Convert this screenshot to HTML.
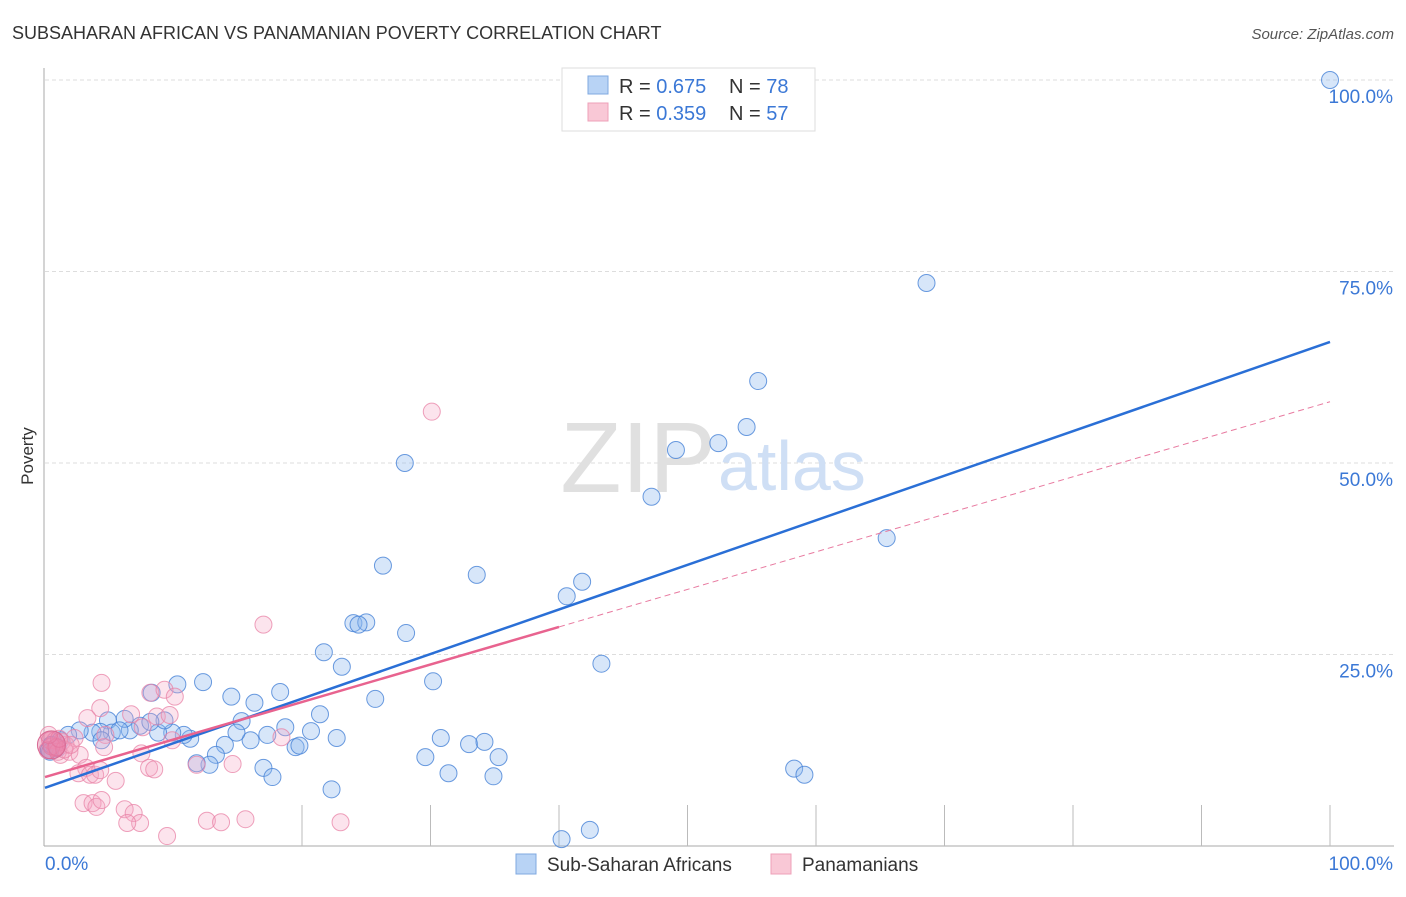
<!DOCTYPE html>
<html><head><meta charset="utf-8"><style>
body{margin:0;background:#fff;font-family:"Liberation Sans",sans-serif}
svg text{font-family:"Liberation Sans",sans-serif}
</style></head><body>
<svg id="c" width="1406" height="892">
<text x="12" y="39" font-size="18" fill="#333">SUBSAHARAN AFRICAN VS PANAMANIAN POVERTY CORRELATION CHART</text>
<text x="1394" y="39" font-size="15" fill="#555" font-style="italic" text-anchor="end">Source: ZipAtlas.com</text>
<text x="33" y="456" font-size="17" fill="#333" transform="rotate(-90 33 456)" text-anchor="middle">Poverty</text>
<g id="grid"></g>
<text x="716" y="492" font-size="100" fill="#e0e0e0" font-family="Liberation Serif" text-anchor="end">ZIP</text>
<text x="718" y="490" font-size="70" fill="#cfdff5">atlas</text>
<g id="marks"></g>
<g>
<rect x="562" y="68" width="253" height="63" fill="#fff" stroke="#ddd"/>
<rect x="588" y="76" width="20" height="18" fill="#b8d3f5" stroke="#7fa8e0"/>
<rect x="588" y="103" width="20" height="18" fill="#f9c8d6" stroke="#eea0b8"/>
<text x="619" y="93" font-size="20" fill="#333">R = <tspan fill="#3b78d6">0.675</tspan></text>
<text x="729" y="93" font-size="20" fill="#333">N = <tspan fill="#3b78d6">78</tspan></text>
<text x="619" y="120" font-size="20" fill="#333">R = <tspan fill="#3b78d6">0.359</tspan></text>
<text x="729" y="120" font-size="20" fill="#333">N = <tspan fill="#3b78d6">57</tspan></text>
</g>
<g>
<rect x="516" y="854" width="20" height="20" fill="#b8d3f5" stroke="#7fa8e0"/>
<text x="547" y="871" font-size="19" fill="#333">Sub-Saharan Africans</text>
<rect x="771" y="854" width="20" height="20" fill="#f9c8d6" stroke="#eea0b8"/>
<text x="802" y="871" font-size="19" fill="#333">Panamanians</text>
</g>
<text x="45" y="870" font-size="19" fill="#3b78d6">0.0%</text>
<text x="1393" y="870" font-size="19" fill="#3b78d6" text-anchor="end">100.0%</text>
</svg>
<script>
const yTicks=[100,75,50,25];
const yTickLabels=["100.0%","75.0%","50.0%","25.0%"];
const blueX=[100,68.6,55.5,54.6,52.4,49.1,47.2,65.5,28.0,26.3,33.6,41.8,40.6,24.0,25.0,24.4,28.1,43.3,21.7,23.1,30.2,25.7,12.3,10.3,8.3,14.5,18.3,16.3,21.4,15.3,18.7,20.7,17.3,22.7,19.5,19.8,16.0,14.0,14.9,30.8,33.0,34.2,35.3,29.6,31.4,34.9,13.3,12.8,11.8,17.0,17.7,22.3,58.3,59.1,40.2,42.4,11.3,10.8,9.9,8.8,9.3,7.4,6.6,6.2,4.9,5.2,4.3,3.7,2.7,1.8,1.2,0.5,0.4,1.0,5.8,4.4,8.2,0.3];
const blueY=[100,73.5,60.7,54.7,52.6,51.7,45.6,40.2,50.0,36.6,35.4,34.5,32.6,29.1,29.2,28.9,27.8,23.8,25.3,23.4,21.5,19.2,21.4,21.1,20.0,19.5,20.1,18.7,17.2,16.3,15.5,15.0,14.5,14.1,12.9,13.1,13.8,13.2,14.8,14.1,13.3,13.6,11.6,11.6,9.5,9.1,11.9,10.6,10.8,10.2,9.0,7.4,10.1,9.3,0.9,2.1,14.0,14.5,14.8,14.8,16.4,15.7,15.1,16.6,16.4,14.8,14.9,14.8,15.1,14.5,13.8,13.2,12.3,12.8,15.1,13.8,16.2,12.5];
const pinkX=[30.1,17.0,4.4,8.2,9.3,10.1,4.3,3.3,6.7,8.7,9.7,7.6,4.7,9.9,4.6,7.5,2.3,1.6,0.8,1.2,1.9,2.7,3.2,2.6,3.5,3.9,4.3,5.5,8.1,8.5,11.8,14.6,18.4,3.0,3.7,4.0,4.4,6.2,6.9,7.4,6.4,9.5,12.6,13.7,15.6,23.0,0.4,0.8,1.3,0.2,1.0,0.5,1.5,2.0,0.9,1.1,0.3];
const pinkY=[56.7,28.9,21.3,20.0,20.4,19.5,18.0,16.7,17.2,16.9,17.1,15.5,14.5,13.8,12.9,12.1,14.1,13.2,13.8,11.9,12.3,11.9,10.2,9.5,9.3,9.3,9.9,8.5,10.2,10.0,10.6,10.7,14.2,5.6,5.6,5.1,6.0,4.8,4.3,3.0,3.0,1.3,3.3,3.1,3.5,3.1,13.8,12.8,13.6,12.5,12.3,13.0,12.6,13.2,12.9,14.0,14.5];
const blueFit=[7.6,65.8];
const pinkFit=[9.0,58.0];
const pinkSolidEnd=40;
const X=v=>45+v*12.85, Y=v=>846-v*7.66;
const NS="http://www.w3.org/2000/svg";
const grid=document.getElementById('grid'), marks=document.getElementById('marks');
function mk(tag,attrs,parent){const e=document.createElementNS(NS,tag);for(const k in attrs)e.setAttribute(k,attrs[k]);parent.appendChild(e);return e;}
yTicks.forEach((t,i)=>{
 const l=mk('line',{x1:45,x2:1394,y1:Y(t),y2:Y(t),stroke:'#ddd','stroke-dasharray':'4,3'},grid);
 
 
 const tx=mk('text',{x:1393,y:Y(t)+23,'font-size':19,fill:'#3b78d6','text-anchor':'end'},grid);
 tx.textContent=yTickLabels[i];
 
 
});
const ax=mk('line',{x1:44,x2:44,y1:68,y2:846,stroke:'#aaa'},grid);


const bx=mk('line',{x1:44,x2:1394,y1:846,y2:846,stroke:'#aaa'},grid);


for(let i=2;i<=10;i++){
 const t=mk('line',{x1:X(i*10),x2:X(i*10),y1:805,y2:846,stroke:'#bbb'},grid);
 
 
}
blueX.forEach((v,i)=>{
 const c=mk('circle',{cx:X(v),cy:Y(blueY[i]),r:8.5,fill:'rgba(140,182,238,0.35)',stroke:'rgba(70,130,215,0.8)','stroke-width':1},marks);
 
 
});
pinkX.forEach((v,i)=>{
 const c=mk('circle',{cx:X(v),cy:Y(pinkY[i]),r:8.5,fill:'rgba(245,165,195,0.3)',stroke:'rgba(232,130,165,0.75)','stroke-width':1},marks);
 
 
});
const big=mk('circle',{cx:X(0.5),cy:Y(13.2),r:14,fill:'rgba(220,90,140,0.35)',stroke:'#d86a94'},marks);


const pe=pinkFit[0]+(pinkFit[1]-pinkFit[0])*pinkSolidEnd/100;
const pd=mk('line',{x1:X(pinkSolidEnd),y1:Y(pe),x2:X(100),y2:Y(pinkFit[1]),stroke:'#e87aa0','stroke-width':1,'stroke-dasharray':'6,4'},marks);


const bl=mk('line',{x1:X(0),y1:Y(blueFit[0]),x2:X(100),y2:Y(blueFit[1]),stroke:'#2a6fd6','stroke-width':2.5},marks);


const pl=mk('line',{x1:X(0),y1:Y(pinkFit[0]),x2:X(pinkSolidEnd),y2:Y(pe),stroke:'#e8638f','stroke-width':2.5},marks);


</script>
</body></html>
